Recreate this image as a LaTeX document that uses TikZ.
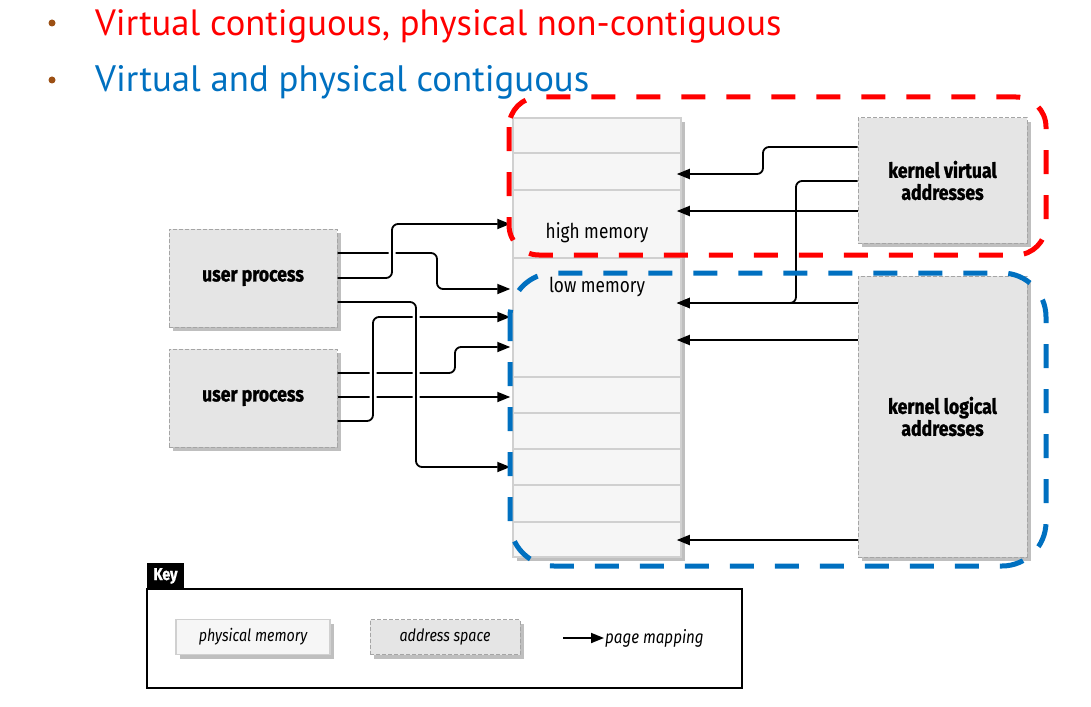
\documentclass[tikz,border=0pt]{standalone}
\usepackage{fontspec}
\setmainfont{Fira Sans}
\newfontfamily\labfont[FakeStretch=0.84,BoldFeatures={FakeBold=1.2}]{Fira Sans}
\newfontfamily\bulfont{PT Sans}
\usetikzlibrary{arrows.meta,shadows,calc}
\definecolor{redc}{RGB}{255,0,0}
\definecolor{bluec}{RGB}{0,112,192}
\definecolor{brownc}{RGB}{156,80,20}
\definecolor{memfill}{RGB}{246,246,246}
\definecolor{memline}{RGB}{208,208,208}
\definecolor{asfill}{RGB}{229,229,229}
\definecolor{asline}{RGB}{165,165,165}
\begin{document}
\begin{tikzpicture}[x=1pt,y=-1pt,
  shadowed/.style={drop shadow={shadow xshift=4pt,shadow yshift=-4pt,fill=black!50,opacity=0.5}},
  mem/.style={draw=memline,line width=1.5pt,fill=memfill,shadowed,inner sep=0pt},
  rowline/.style={draw=memline,line width=1.5pt},
  asbox/.style={draw=asline,line width=1pt,dash pattern=on 4pt off 2pt,fill=asfill,shadowed,inner sep=0pt,align=center,
    font=\labfont\bfseries\fontsize{21}{22}\selectfont},
  memlab/.style={font=\labfont\fontsize{20.5}{22}\selectfont,inner sep=1pt},
  keylab/.style={font=\labfont\itshape\fontsize{17}{20}\selectfont,inner sep=1pt},
  conn/.style={line width=1.8pt,rounded corners=6pt,-{Triangle[length=13pt,width=10pt]},
    preaction={draw=white,line width=7pt,-,shorten <=5pt,shorten >=14pt}},
  connR/.style={line width=1.8pt,rounded corners=6pt,-{Triangle[length=13pt,width=10pt]}},
  reddash/.style={draw=redc,line width=5pt,dash pattern=on 24pt off 21pt,rounded corners=30pt},
  bluedash/.style={draw=bluec,line width=5pt,dash pattern=on 24pt off 21pt,rounded corners=44pt},
  bullet/.style={circle,fill=brownc,minimum size=7pt,inner sep=0pt}
]
\useasboundingbox (0,0) rectangle (1091,706);

% bullets
\node[bullet] (b1) at (52,23) {};
\node[bullet] (b2) at (52,80) {};
\node[anchor=base west,inner sep=0pt,text=redc,font=\bulfont\fontsize{36.6}{40}\selectfont] (t1) at (95,36) {Virtual contiguous, physical non-contiguous};
\node[anchor=base west,inner sep=0pt,text=bluec,font=\bulfont\fontsize{36.8}{40}\selectfont] (t2) at (95,92) {Virtual and physical contiguous};

% physical memory column
\node[mem,minimum width=168pt,minimum height=439pt] (mem) at (597,337.5) {};
\foreach \yy in {153,190,258,377,413,449,485,522}
  \draw[rowline] (mem.west |- 0,\yy) -- (mem.east |- 0,\yy);
\node[memlab] (hm) at (597,233) {high memory};
\node[memlab] (lm) at (597,287) {low memory};

% address spaces
\node[asbox,minimum width=168pt,minimum height=98pt] (up1) at (253,278) {user process};
\node[asbox,minimum width=168pt,minimum height=98pt] (up2) at (253,398) {user process};
\node[asbox,minimum width=169pt,minimum height=125pt] (kv) at (942.5,180.5) {kernel virtual\\addresses};
\node[asbox,minimum width=169pt,minimum height=281pt] (kl) at (942.5,416.5) {kernel logical\\addresses};

% user process mappings
\draw[conn,shorten >=2pt] (up1.east |- 0,253) -- (437,253) -- (437,289) -- (mem.west |- 0,289);
\draw[conn,shorten >=2pt] (up1.east |- 0,278) -- (392,278) -- (392,224) -- (mem.west |- 0,224);
\draw[conn,shorten >=2pt] (up2.east |- 0,373) -- (455,373) -- (455,347) -- (mem.west |- 0,347);
\draw[conn,shorten >=2pt] (up2.east |- 0,397) -- (mem.west |- 0,397);
\draw[conn,shorten >=2pt] (up2.east |- 0,421) -- (373,421) -- (373,317) -- (mem.west |- 0,317);
\draw[conn,shorten >=2pt] (up1.east |- 0,302) -- (416,302) -- (416,467) -- (mem.west |- 0,467);

% kernel mappings
\draw[connR,shorten >=-5pt] (kv.west |- 0,147) -- (763,147) -- (763,174) -- (mem.east |- 0,174);
\draw[connR,shorten >=-5pt] (kv.west |- 0,211) -- (mem.east |- 0,211);
\draw[connR,shorten >=-5pt] (kv.west |- 0,181) -- (796,181) -- (796,303) -- (mem.east |- 0,303);
\draw[connR,shorten >=-5pt] (kl.west |- 0,303) -- (mem.east |- 0,303);
\draw[connR,shorten >=-5pt] (kl.west |- 0,340) -- (mem.east |- 0,340);
\draw[connR,shorten >=-5pt] (kl.west |- 0,540) -- (mem.east |- 0,540);

% highlight regions
\draw[reddash] (509,97) rectangle (1046,255);
\draw[bluedash] (510,273) rectangle (1046,566);

% key
\node[draw=black,line width=1.8pt,minimum width=595pt,minimum height=99pt,inner sep=0pt] (keybox) at (444.5,638.5) {};
\node[fill=black,text=white,font=\labfont\bfseries\fontsize{17}{18}\selectfont,minimum width=37pt,minimum height=26pt,inner sep=0pt] (keytab) at (165.5,576) {Key};
\node[mem,minimum width=154pt,minimum height=35pt,keylab] (kpm) at (253,637) {physical memory};
\node[asbox,minimum width=150pt,minimum height=35pt,keylab,font=\labfont\itshape\fontsize{17}{20}\selectfont] (kas) at (445,637) {address space};
\coordinate (ka) at (563,638);
\node[keylab,anchor=west,font=\labfont\itshape\fontsize{18}{20}\selectfont] (kpg) at (604,638) {page mapping};
\draw[connR] (ka) -- (kpg.west);
\end{tikzpicture}
\end{document}
